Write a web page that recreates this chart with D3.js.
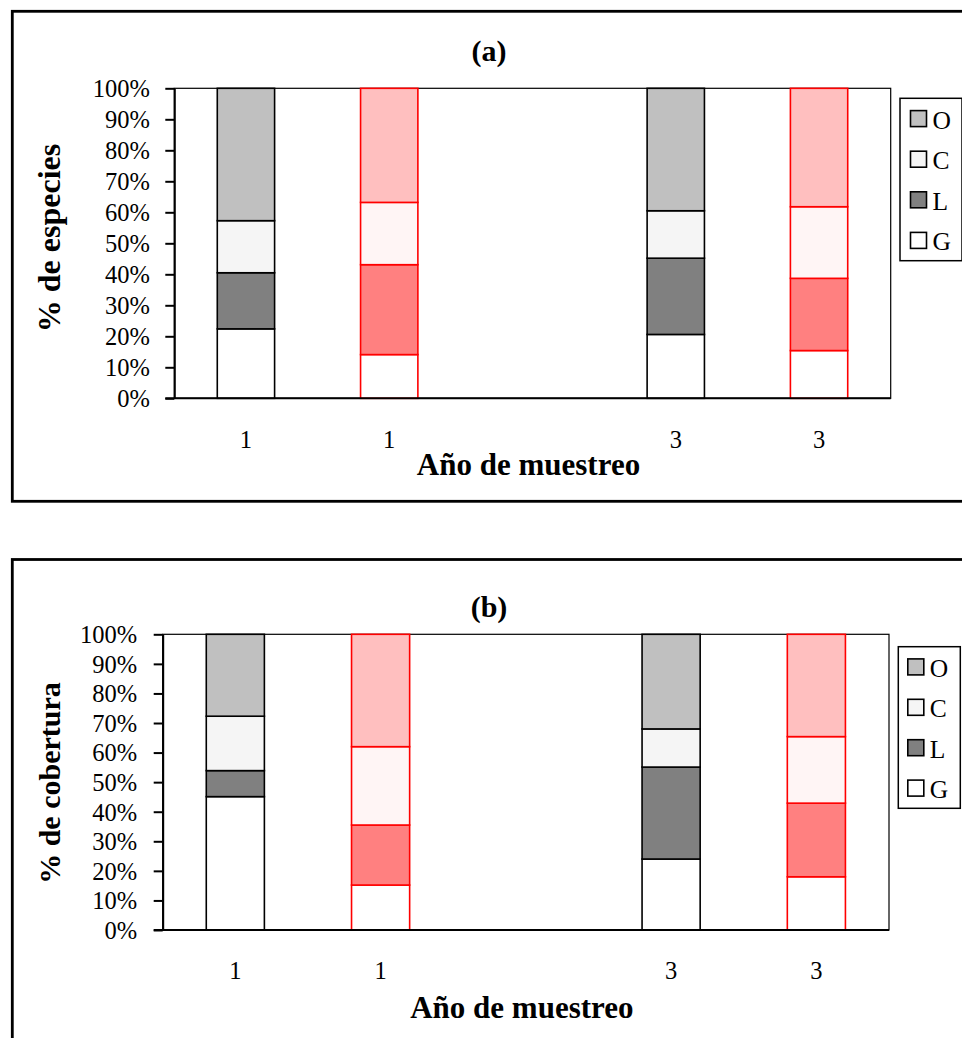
<!DOCTYPE html>
<html>
<head>
<meta charset="utf-8">
<script src="https://cdn.jsdelivr.net/npm/d3@7"></script>
<style>
  html, body { margin: 0; padding: 0; background: #fff; }
  svg { display: block; }
  text { font-family: "Times New Roman", "Liberation Serif", serif; fill: #000; }
</style>
</head>
<body>
<svg id="chart" width="962" height="1038"></svg>
<script>
// Años de muestreo (la posición central queda vacía como separador)
const categories = ["1", "1", "", "3", "3"];
// Grupos apilados de abajo hacia arriba
const groups = ["G", "L", "C", "O"];
// Orden de la leyenda
const legendOrder = ["O", "C", "L", "G"];
// Marcas del eje Y (%)
const yTicks = [0, 10, 20, 30, 40, 50, 60, 70, 80, 90, 100];

// (a) % de especies por grupo
const especiesG = [22.4, 14.1, null, 20.6, 15.4];
const especiesL = [18.1, 29.0, null, 24.6, 23.3];
const especiesC = [16.8, 20.1, null, 15.3, 23.1];
const especiesO = [42.7, 36.8, null, 39.5, 38.2];

// (b) % de cobertura por grupo
const coberturaG = [45.1, 15.2, null, 24.0, 18.0];
const coberturaL = [8.8, 20.3, null, 31.1, 24.9];
const coberturaC = [18.4, 26.5, null, 12.9, 22.5];
const coberturaO = [27.7, 38.0, null, 32.0, 34.6];

// Estilos de las barras
const palettes = {
  gray: { stroke: "#000000", G: "#ffffff", L: "#808080", C: "#f5f5f5", O: "#c0c0c0" },
  red:  { stroke: "#ff0000", G: "#ffffff", L: "#ff8080", C: "#fff5f5", O: "#ffbfbf" }
};
const slotPalette = ["gray", "red", null, "gray", "red"];
const serif = "'Times New Roman','Liberation Serif',serif";

const svg = d3.select("#chart");

function drawPanel(cfg) {
  const g = svg.append("g");
  const p = cfg.plot;

  // marco exterior
  g.append("rect")
    .attr("x", 12.3).attr("y", cfg.frameY)
    .attr("width", 970).attr("height", cfg.frameH)
    .attr("fill", "#fff").attr("stroke", "#000").attr("stroke-width", 2.8);

  // título del panel
  g.append("text")
    .attr("x", 489).attr("y", cfg.titleY)
    .attr("text-anchor", "middle")
    .attr("font-size", 30).attr("font-weight", "bold")
    .text(cfg.title);

  const x = d3.scaleBand()
    .domain(d3.range(categories.length))
    .range([p.l, p.r])
    .paddingInner(0.6)
    .paddingOuter(0.3);

  const y = d3.scaleLinear().domain([0, 100]).range([p.b, p.t]);

  // área de trazado
  g.append("rect")
    .attr("x", p.l).attr("y", p.t)
    .attr("width", p.r - p.l).attr("height", p.b - p.t)
    .attr("fill", "#fff").attr("stroke", "#000").attr("stroke-width", 1.2);

  // barras apiladas
  const rows = categories.map((c, i) => {
    const r = { i };
    groups.forEach(k => { r[k] = cfg.series[k][i] == null ? 0 : cfg.series[k][i]; });
    return r;
  });
  const stacked = d3.stack().keys(groups)(rows);

  stacked.forEach(layer => {
    g.append("g").selectAll("rect")
      .data(layer.filter(d => slotPalette[d.data.i] !== null && cfg.series[layer.key][d.data.i] != null))
      .join("rect")
      .attr("x", d => x(d.data.i))
      .attr("width", x.bandwidth())
      .attr("y", d => y(d[1]))
      .attr("height", d => y(d[0]) - y(d[1]))
      .attr("fill", d => palettes[slotPalette[d.data.i]][layer.key])
      .attr("stroke", d => palettes[slotPalette[d.data.i]].stroke)
      .attr("stroke-width", 1.6);
  });

  // eje Y
  const yAxis = g.append("g")
    .attr("transform", `translate(${p.l},0)`)
    .call(d3.axisLeft(y).tickValues(yTicks).tickFormat(d => d + "%")
      .tickSize(9).tickSizeOuter(0).tickPadding(cfg.yPad));
  yAxis.select(".domain").attr("stroke", "#000").attr("stroke-width", 2);
  yAxis.selectAll(".tick line").attr("stroke", "#000").attr("stroke-width", 2);
  yAxis.selectAll(".tick text")
    .attr("font-size", 24.5).attr("font-family", serif)
    .attr("fill", "#000").attr("dy", "0.34em");

  // eje X
  const xAxis = g.append("g")
    .attr("transform", `translate(0,${p.b})`)
    .call(d3.axisBottom(x).tickFormat(i => categories[i])
      .tickSize(0).tickSizeOuter(0).tickPadding(32));
  xAxis.select(".domain").attr("stroke", "#000").attr("stroke-width", 2)
    .attr("d", `M${p.l - 9},0H${p.r}`);
  xAxis.selectAll(".tick text")
    .attr("font-size", 24.5).attr("font-family", serif)
    .attr("fill", "#000");

  // títulos de ejes
  g.append("text")
    .attr("transform", `translate(${cfg.yTitleX},${cfg.yTitleCy}) rotate(-90)`)
    .attr("text-anchor", "middle")
    .attr("font-size", cfg.yTitleSize).attr("font-weight", "bold")
    .text(cfg.yTitle);

  g.append("text")
    .attr("x", (p.l + p.r) / 2 - 4).attr("y", cfg.xTitleY)
    .attr("text-anchor", "middle")
    .attr("font-size", 31).attr("font-weight", "bold")
    .text("Año de muestreo");

  // leyenda
  const lx = p.r + 9.3;
  const lg = g.append("g").attr("transform", `translate(${lx},${cfg.legendTop})`);
  lg.append("rect")
    .attr("x", 0).attr("y", 0)
    .attr("width", 62).attr("height", cfg.legendRow * legendOrder.length)
    .attr("fill", "#fff").attr("stroke", "#000").attr("stroke-width", 1.5);
  legendOrder.forEach((k, j) => {
    const cy = cfg.legendRow * (j + 0.5);
    lg.append("rect")
      .attr("x", cfg.swatchX).attr("y", cy - 8)
      .attr("width", 16).attr("height", 16)
      .attr("fill", palettes.gray[k]).attr("stroke", "#000").attr("stroke-width", 1.6);
    lg.append("text")
      .attr("x", cfg.swatchX + 22).attr("y", cy + 10)
      .attr("font-size", 25.5)
      .text(k);
  });
}

drawPanel({
  title: "(a)",
  yTitle: "% de especies",
  yTitleSize: 32,
  series: { G: especiesG, L: especiesL, C: especiesC, O: especiesO },
  frameY: 11.3, frameH: 490,
  plot: { l: 174.3, t: 88.3, r: 890.7, b: 398.3 },
  yPad: 15.5,
  titleY: 61,
  yTitleX: 59.5, yTitleCy: 238,
  xTitleY: 475,
  legendTop: 98.3, legendRow: 40.6,
  swatchX: 10.5
});

drawPanel({
  title: "(b)",
  yTitle: "% de cobertura",
  yTitleSize: 30,
  series: { G: coberturaG, L: coberturaL, C: coberturaC, O: coberturaO },
  frameY: 559.5, frameH: 600,
  plot: { l: 162.7, t: 634.3, r: 889, b: 930 },
  yPad: 16.5,
  titleY: 617,
  yTitleX: 59.5, yTitleCy: 783,
  xTitleY: 1018,
  legendTop: 646.7, legendRow: 40.4,
  swatchX: 9.5
});
</script>
</body>
</html>
